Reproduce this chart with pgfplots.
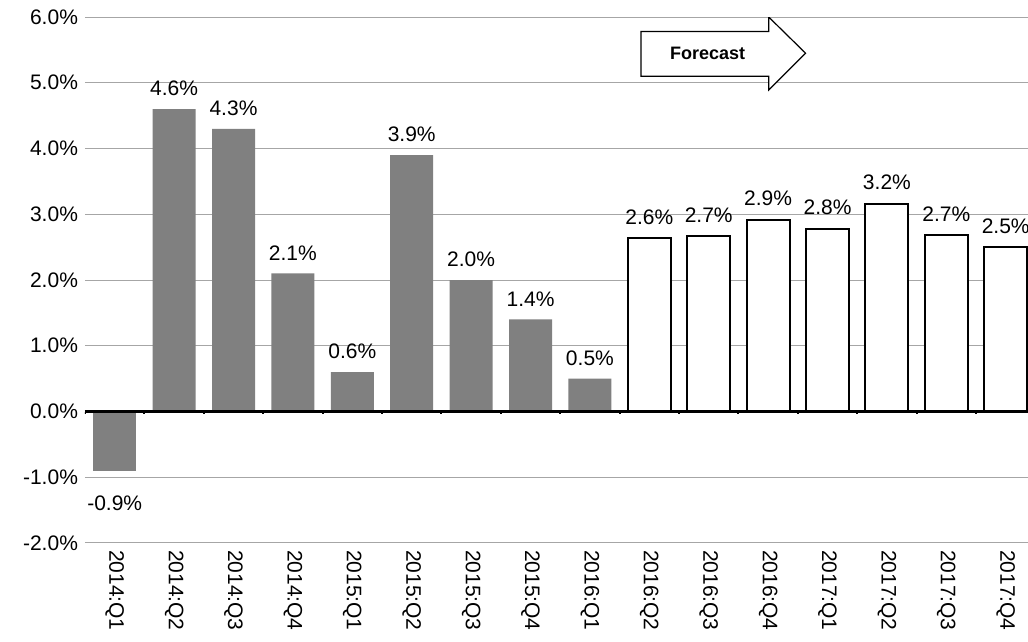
\documentclass[border=0pt]{standalone}
\usepackage{pgfplots}
\pgfplotsset{compat=1.18}
\usepackage{fontspec}
\setmainfont{Liberation Sans}
\begin{document}
\begin{tikzpicture}
\clip (-42.5pt,-49.5pt) rectangle (471.5pt,271.5pt);
\begin{axis}[
  scale only axis, width=471.5pt, height=263pt,
  xmin=-0.5, xmax=15.375, ymin=-2, ymax=6,
  ytick={-2,-1,...,6},
  axis line style={draw=none},
  ymajorgrids, grid style={gray!70, line width=0.5pt},
  major tick length=0pt,
  xtick={0,...,15},
  xticklabels={2014:Q1,2014:Q2,2014:Q3,2014:Q4,2015:Q1,2015:Q2,2015:Q3,2015:Q4,2016:Q1,2016:Q2,2016:Q3,2016:Q4,2017:Q1,2017:Q2,2017:Q3,2017:Q4},
  xticklabel style={rotate=-90, anchor=west, font=\fontsize{10.5}{12}\selectfont},
  yticklabel style={font=\fontsize{10.5}{12}\selectfont},
  /pgf/number format/assume math mode=true,
  yticklabel={\pgfmathprintnumber[fixed,fixed zerofill,precision=1]{\tick}\%},
  ybar, bar width=21.5pt, bar shift=0pt,
  nodes near coords={\pgfmathprintnumber[fixed,fixed zerofill,precision=1]{\pgfplotspointmeta}\%},
  every node near coord/.append style={font=\fontsize{10.5}{12}\selectfont, yshift=3pt},
]
\addplot[fill=gray, draw=none, every node near coord/.append style={yshift=-12pt}] coordinates {(0,-0.9)};
\addplot[fill=gray, draw=none] coordinates {(1,4.6)(2,4.3)(3,2.1)(4,0.6)(5,3.9)(6,2.0)(7,1.4)(8,0.5)};
\addplot[fill=white, draw=black, line width=1pt] coordinates {(9,2.64)(10,2.67)(11,2.92)(12,2.78)(13,3.16)(14,2.68)(15,2.5)};
\pgfplotsinvokeforeach{-0.5,0.5,...,15.5}{\draw[black, line width=1pt] (axis cs:#1,0) -- (axis cs:#1,-0.04);}
\draw[black, line width=1.2pt] (axis cs:-0.5,0) -- (axis cs:15.5,0);
\draw[black, fill=white, line width=0.6pt] (axis cs:8.86,5.78) -- (axis cs:11.01,5.78) -- (axis cs:11.01,6.0) -- (axis cs:11.63,5.45) -- (axis cs:11.01,4.89) -- (axis cs:11.01,5.10) -- (axis cs:8.86,5.10) -- cycle;
\node[font=\bfseries\fontsize{9}{11}\selectfont] at (axis cs:9.98,5.45) {Forecast};
\end{axis}
\end{tikzpicture}
\end{document}
